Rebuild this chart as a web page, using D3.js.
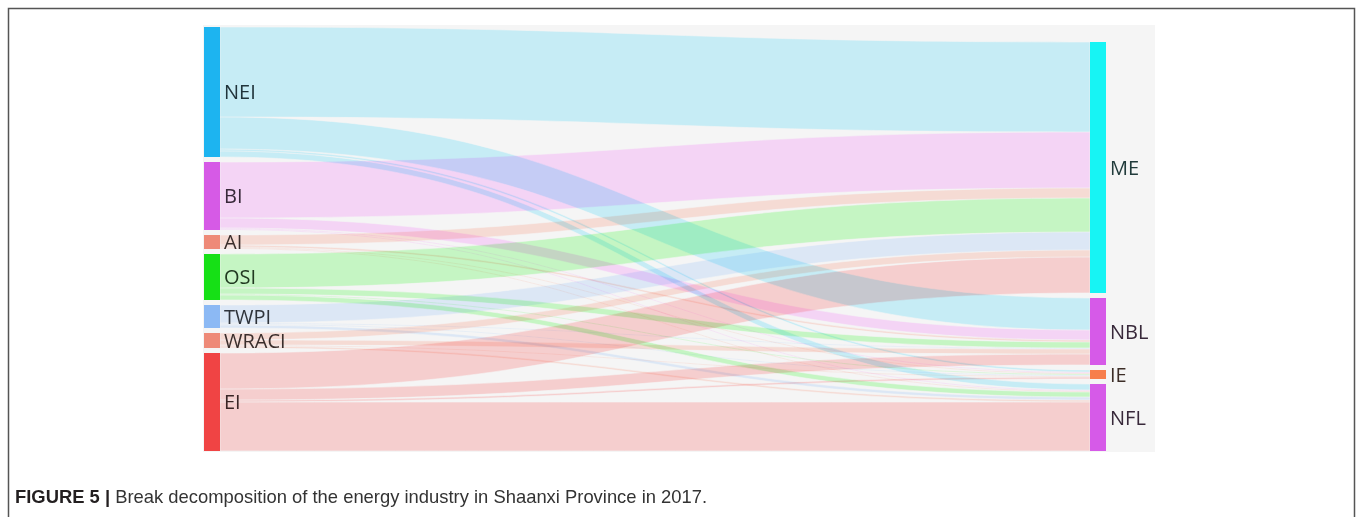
<!DOCTYPE html>
<html>
<head>
<meta charset="utf-8">
<script src="https://cdn.jsdelivr.net/npm/d3@7"></script>
<style>
  body { margin: 0; background: #fff; }
  svg { display: block; }
</style>
</head>
<body>
<div id="chart-area"></div>
<script>
// DATA
const sourceNames = ["NEI", "BI", "AI", "OSI", "TWPI", "WRACI", "EI"];
const targetNames = ["ME", "NBL", "IE", "NFL"];

// flows from each source (same order as sourceNames) into each target
const flowToME  = [90, 56, 10, 34, 18, 7, 36];
const flowToNBL = [32, 10, 2, 6, 1, 5, 11];
const flowToIE  = [2, 1, 1, 1, 1, 1, 2];
const flowToNFL = [6, 1, 1, 5, 3, 2, 49];

const captionBold = "FIGURE 5 |";
const captionText = " Break decomposition of the energy industry in Shaanxi Province in 2017.";

// colours
const sourceColors = ["#1db4f0", "#d65ae6", "#ee8a78", "#16e016", "#8cb9f4", "#ee8a78", "#f04444"];
const targetColors = ["#17f4f4", "#d65ae8", "#f77e4c", "#d65ae8"];
// link fills, blended with multiply so crossings darken
const linkColors = ["#cef6ff", "#feddff", "#ffe4dd", "#cdffcb", "#e5f1ff", "#ffe4dd", "#ffd7d7"];

var W = 1360, H = 517;

var svg = d3.select("#chart-area").append("svg")
    .attr("width", W)
    .attr("height", H);

// frame
svg.append("path")
    .attr("d", "M8.5," + H + "V8.5H1354.5V" + H)
    .attr("fill", "none")
    .attr("stroke", "#555")
    .attr("stroke-width", 1.5);

// plot panel
var panel = { left: 203, top: 25, right: 1155, bottom: 452 };
svg.append("rect")
    .attr("x", panel.left)
    .attr("y", panel.top)
    .attr("width", panel.right - panel.left)
    .attr("height", panel.bottom - panel.top)
    .attr("fill", "#f5f5f5");

var flows = [flowToME, flowToNBL, flowToIE, flowToNFL];
var links = [];
sourceNames.forEach((s, i) => {
    targetNames.forEach((t, j) => {
        links.push({ si: i, ti: j, value: flows[j][i] });
    });
});

var sourceTotals = sourceNames.map((s, i) => d3.sum(flows, f => f[i]));
var targetTotals = flows.map(f => d3.sum(f));
var total = d3.sum(sourceTotals);

var nodeWidth = 16, pad = 5;
var colTop = 27, colBottom = 451;

// value -> pixel height, set by the column with the most gaps
var h = d3.scaleLinear()
    .domain([0, total])
    .range([0, (colBottom - colTop) - (sourceNames.length - 1) * pad]);

// column x positions
var x = d3.scalePoint()
    .domain(["source", "target"])
    .range([204, 1090]);

// place source nodes from the top
var sNodes = [];
var yy = colTop;
sourceNames.forEach((name, i) => {
    var hh = h(sourceTotals[i]);
    sNodes.push({ name: name, y0: yy, y1: yy + hh, color: sourceColors[i], off: yy });
    yy += hh + pad;
});

// place target nodes aligned to the bottom
var tNodes = [];
yy = colBottom - h(total) - (targetNames.length - 1) * pad;
targetNames.forEach((name, j) => {
    var hh = h(targetTotals[j]);
    tNodes.push({ name: name, y0: yy, y1: yy + hh, color: targetColors[j], off: yy });
    yy += hh + pad;
});

// stack links: at source by target order, at target by source order
sNodes.forEach((n, i) => {
    links.filter(l => l.si === i).forEach(l => {
        l.sy0 = n.off; l.sy1 = n.off + h(l.value); n.off = l.sy1;
    });
});
tNodes.forEach((n, j) => {
    links.filter(l => l.ti === j).forEach(l => {
        l.ty0 = n.off; l.ty1 = n.off + h(l.value); n.off = l.ty1;
    });
});

var x0 = x("source") + nodeWidth, x1 = x("target");
var xm = d3.interpolateNumber(x0, x1)(0.5);

function band(l) {
    return "M" + x0 + "," + l.sy0 +
        "C" + xm + "," + l.sy0 + " " + xm + "," + l.ty0 + " " + x1 + "," + l.ty0 +
        "L" + x1 + "," + l.ty1 +
        "C" + xm + "," + l.ty1 + " " + xm + "," + l.sy1 + " " + x0 + "," + l.sy1 + "Z";
}

svg.append("g")
    .selectAll("path")
    .data(links.filter(l => l.value > 0))
    .join("path")
    .attr("d", band)
    .attr("fill", l => linkColors[l.si])
    .attr("stroke", "#fff")
    .attr("stroke-width", 0.6)
    .style("mix-blend-mode", "multiply");

// nodes
var nodeG = svg.append("g");
nodeG.selectAll("rect.src")
    .data(sNodes)
    .join("rect")
    .attr("class", "src")
    .attr("x", x("source"))
    .attr("y", d => d.y0)
    .attr("width", nodeWidth)
    .attr("height", d => d.y1 - d.y0)
    .attr("fill", d => d.color);

nodeG.selectAll("rect.tgt")
    .data(tNodes)
    .join("rect")
    .attr("class", "tgt")
    .attr("x", x("target"))
    .attr("y", d => d.y0)
    .attr("width", nodeWidth)
    .attr("height", d => d.y1 - d.y0)
    .attr("fill", d => d.color);

// labels
function labelColor(c) { return d3.interpolateRgb("#222", c)(0.12); }

svg.append("g")
    .selectAll("text")
    .data(sNodes.concat(tNodes))
    .join("text")
    .attr("x", (d, i) => (i < sNodes.length ? x("source") : x("target")) + nodeWidth + 4)
    .attr("y", d => (d.y0 + d.y1) / 2)
    .attr("dy", "0.36em")
    .attr("fill", d => labelColor(d.color))
    .style("font-family", "'Open Sans', sans-serif")
    .style("font-size", "20px")
    .text(d => d.name);

// caption
var cap = svg.append("text")
    .attr("x", 15)
    .attr("y", 503)
    .attr("fill", "#333")
    .style("font-family", "'Liberation Sans', Arial, sans-serif")
    .style("font-size", "18.4px");
cap.append("tspan").attr("font-weight", "bold").attr("fill", "#231f20").text(captionBold);
cap.append("tspan").text(captionText);
</script>
</body>
</html>
